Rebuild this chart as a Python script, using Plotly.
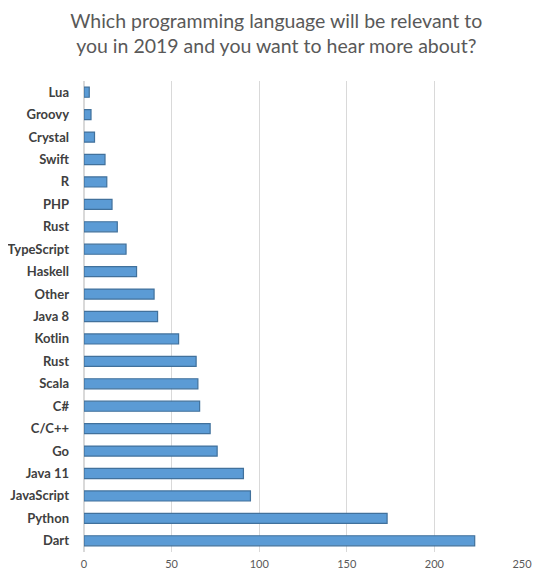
import plotly.graph_objects as go

# survey answers, bottom (Dart) to top (Lua)
languages = [
    "Dart", "Python", "JavaScript", "Java 11", "Go", "C/C++", "C#",
    "Scala", "Rust", "Kotlin", "Java 8", "Other", "Haskell", "TypeScript",
    "Rust", "PHP", "R", "Swift", "Crystal", "Groovy", "Lua",
]
votes = [223, 173, 95, 91, 76, 72, 66, 65, 64, 54, 42, 40, 30, 24, 19, 16, 13, 12, 6, 4, 3]
x_ticks = [0, 50, 100, 150, 200, 250]

# "Rust" shows up twice, so use row numbers for the positions
rows = list(range(len(languages)))

fig = go.Figure(
    go.Bar(
        x=votes,
        y=rows,
        orientation="h",
        marker=dict(color="#5B9BD5", line=dict(color="#41719C", width=1.2)),
        width=0.45,
    )
)

fig.update_layout(
    width=552,
    height=587,
    margin=dict(l=76, r=38, t=73, b=43, autoexpand=False),
    paper_bgcolor="white",
    plot_bgcolor="white",
    font=dict(family="Lato, Open Sans, sans-serif", color="#595959"),
    title=dict(
        text="Which programming language will be relevant to<br>you in 2019 and you want to hear more about?",
        x=0.486,
        xanchor="center",
        y=0.966,
        yanchor="middle",
        font=dict(size=19.5, color="#595959"),
    ),
    showlegend=False,
    bargap=0.55,
)

fig.update_xaxes(
    range=[0, 250],
    tickvals=x_ticks,
    showgrid=True,
    gridcolor="#D9D9D9",
    zeroline=True,
    zerolinecolor="#D9D9D9",
    tickfont=dict(size=11, color="#595959"),
    ticks="",
    ticklabelstandoff=4,
    automargin=False,
)

fig.update_yaxes(
    range=[-0.5, len(languages) - 0.5],
    tickvals=rows,
    ticktext=["<b>%s</b>" % name for name in languages],
    showgrid=False,
    zeroline=False,
    tickfont=dict(size=13, color="#404040"),
    ticks="",
    ticklabelstandoff=14,
    automargin=False,
)

fig.write_html("out.html")
